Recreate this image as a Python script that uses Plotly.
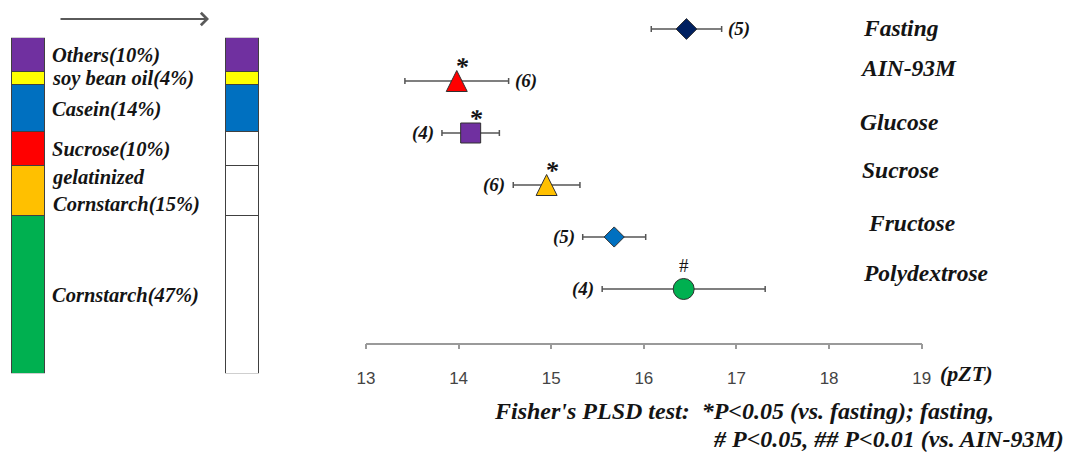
import plotly.graph_objects as go

W, H = 1068, 455

# ---------------- data ----------------
# diet composition (stacked from bottom)
comp_labels = ["Cornstarch(47%)", "gelatinized<br>Cornstarch(15%)", "Sucrose(10%)",
               "Casein(14%)", "soy bean oil(4%)", "Others(10%)"]
comp_pct = [47, 15, 10, 14, 4, 10]
comp_in_base = [False, False, False, True, True, True]   # kept in carbohydrate-free base
bar_names = ["AIN-93M", "Carbohydrate-free"]

groups = ["Fasting", "AIN-93M", "Glucose", "Sucrose", "Fructose", "Polydextrose"]
pzt_mean = [16.46, 13.98, 14.13, 14.95, 15.68, 16.43]
pzt_err = [0.38, 0.56, 0.31, 0.36, 0.34, 0.88]
n_animals = [5, 6, 4, 6, 5, 4]
sig_marks = ["", "*", "*", "*", "", "#"]
x_ticks = [13, 14, 15, 16, 17, 18, 19]

# ---------------- styles ----------------
comp_colors = ["#00B050", "#FFC000", "#FF0000", "#0070C0", "#FFFF00", "#7030A0"]
pt_symbols = ["diamond", "arrow-down", "square", "arrow-down", "diamond", "circle"]
pt_angles = [0, 180, 0, 180, 0, 0]
pt_colors = ["#002060", "#FF0000", "#7030A0", "#FFC000", "#0070C0", "#00B050"]
pt_sizes = [16, 21, 20, 21, 15.5, 21]
pt_standoff = [0, 10.5, 0, 10.5, 0, 0]
n_side = ["right", "right", "left", "left", "left", "left"]
grp_xshift = [1, -2, -2, 0, 6, 1]
grp_yshift = [1, 13, 11, 15, 14, 16]

SERIF = "Liberation Serif"
TXT = "#141414"


def sfont(size):
    return dict(family=SERIF, size=size, color=TXT, weight="bold", style="italic")


def px_x(p):
    return p / W


def px_y(p):
    return 1 - p / H


fig = go.Figure()

# ---------------- composition bars ----------------
for lab, pct, col, keep in zip(comp_labels, comp_pct, comp_colors, comp_in_base):
    fig.add_trace(go.Bar(
        x=bar_names, y=[pct, pct], width=0.15,
        marker=dict(color=[col, col if keep else "white"],
                    line=dict(color="#404040", width=1)),
        xaxis="x2", yaxis="y2", hoverinfo="skip", showlegend=False,
    ))

cum = 0
for lab, pct in zip(comp_labels, comp_pct):
    mid = cum + pct / 2
    cum += pct
    fig.add_annotation(x=bar_names[0], y=mid, xref="x2", yref="y2", text=lab,
                       showarrow=False, xanchor="left", yanchor="middle", align="left",
                       xshift=22, yshift=-1, font=sfont(20.5))

# arrow above the bars
fig.add_annotation(x=px_x(209), y=px_y(19), xref="paper", yref="paper", text="",
                   showarrow=True, ax=-150, ay=0, arrowhead=4, arrowsize=1.2,
                   arrowwidth=2, arrowcolor="#5a5a5a")

# ---------------- main plot ----------------
fig.add_trace(go.Scatter(
    x=pzt_mean, y=groups, mode="markers",
    error_x=dict(type="data", array=pzt_err, color="#555555", thickness=1.5, width=3),
    marker=dict(symbol=pt_symbols, angle=pt_angles, color=pt_colors, size=pt_sizes,
                standoff=pt_standoff, opacity=1,
                line=dict(color="#303030", width=1)),
    xaxis="x", yaxis="y", hoverinfo="skip", showlegend=False,
))

for g, m, e, n, s, side in zip(groups, pzt_mean, pzt_err, n_animals, sig_marks, n_side):
    if side == "right":
        fig.add_annotation(x=m + e, y=g, xref="x", yref="y", text=f"({n})", showarrow=False,
                           xanchor="left", yanchor="middle", xshift=4, font=sfont(19))
    else:
        fig.add_annotation(x=m - e, y=g, xref="x", yref="y", text=f"({n})", showarrow=False,
                           xanchor="right", yanchor="middle", xshift=-6, font=sfont(19))
    if s:
        fig.add_annotation(x=m, y=g, xref="x", yref="y", text=s, showarrow=False,
                           xanchor="center", yanchor="middle",
                           yshift=15 if s == "*" else 23,
                           xshift=5 if s == "*" else 0,
                           font=sfont(26) if s == "*" else dict(family=SERIF, size=19, color=TXT))

for g, dx, dy in zip(groups, grp_xshift, grp_yshift):
    fig.add_annotation(x=px_x(860), y=g, xref="paper", yref="y", text=g, showarrow=False,
                       xanchor="left", yanchor="middle", xshift=dx, yshift=dy, font=sfont(23.5))

fig.add_annotation(x=px_x(938), y=px_y(373), xref="paper", yref="paper", text="(pZT)",
                   showarrow=False, xanchor="left", yanchor="middle", font=sfont(22))

fig.add_annotation(x=px_x(492), y=px_y(411), xref="paper", yref="paper",
                   text="Fisher's PLSD test:  *P&lt;0.05 (vs. fasting); fasting,",
                   showarrow=False, xanchor="left", yanchor="middle", font=sfont(24))
fig.add_annotation(x=px_x(1066), y=px_y(439), xref="paper", yref="paper",
                   text="# P&lt;0.05, ## P&lt;0.01 (vs. AIN-93M)",
                   showarrow=False, xanchor="right", yanchor="middle", font=sfont(24))

# ---------------- layout ----------------
y_top_val = -0.558
y_bot_val = 6.033
fig.update_layout(
    width=W, height=H, margin=dict(l=0, r=0, t=0, b=0, autoexpand=False),
    paper_bgcolor="white", plot_bgcolor="rgba(0,0,0,0)",
    barmode="stack", showlegend=False,
    xaxis=dict(domain=[px_x(366), px_x(921.7)], range=[13, 19], anchor="y",
               tickvals=x_ticks, ticktext=[str(t) for t in x_ticks],
               showline=True, linecolor="#9a9a9a", linewidth=1.5,
               ticks="outside", ticklen=5, tickcolor="#9a9a9a", tickwidth=1.5,
               showgrid=False, zeroline=False, ticklabelstandoff=14,
               tickfont=dict(family="Liberation Sans", size=17, color="#444444")),
    yaxis=dict(domain=[px_y(342.7), 1], type="category", categoryarray=groups,
               range=[y_bot_val, y_top_val], visible=False, anchor="x"),
    xaxis2=dict(domain=[0, px_x(270)], range=[-0.1308, 1.1308], visible=False,
                anchor="y2", type="category", categoryarray=bar_names),
    yaxis2=dict(domain=[px_y(373.3), px_y(37.7)], range=[0, 100], visible=False,
                anchor="x2"),
)

fig.write_html("out.html")
